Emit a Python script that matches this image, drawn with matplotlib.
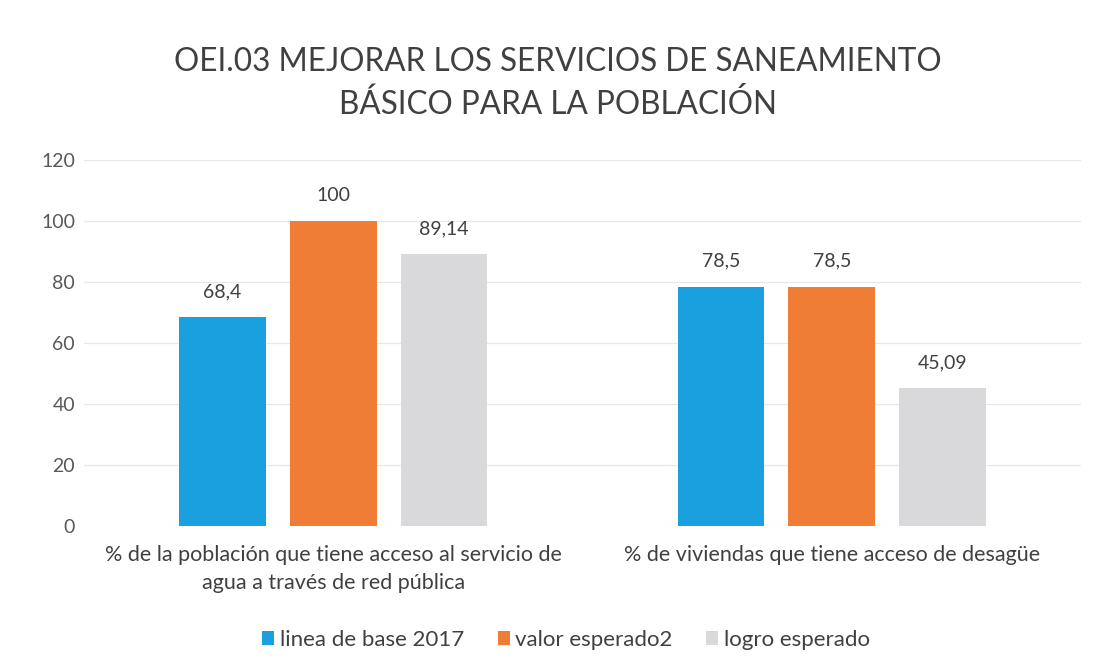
import matplotlib
matplotlib.use("Agg")
import matplotlib.pyplot as plt
import numpy as np

categories = ["% de la población que tiene acceso al servicio de\nagua a través de red pública",
              "% de viviendas que tiene acceso de desagüe"]
series_names = ["linea de base 2017", "valor esperado2", "logro esperado"]
linea_base = [68.4, 78.5]
valor_esperado = [100, 78.5]
logro_esperado = [89.14, 45.09]
value_labels = [["68,4", "78,5"], ["100", "78,5"], ["89,14", "45,09"]]
yticks = [0, 20, 40, 60, 80, 100, 120]

colors = ["#1AA0DE", "#EF7D35", "#D9D9DB"]
text_color = "#404040"

plt.rcParams['font.family'] = ['Lato', 'DejaVu Sans']

fig = plt.figure(figsize=(10.98, 6.69), dpi=100)
ax = fig.add_axes([84/1098, 1-526/669, (1081-84)/1098, 366/669])

x = np.arange(len(categories))
width = 0.174
step = 0.222
data = [linea_base, valor_esperado, logro_esperado]
for i, (vals, name, col) in enumerate(zip(data, series_names, colors)):
    bars = ax.bar(x + (i-1)*step, vals, width, color=col, label=name, zorder=3)
    for b, lab in zip(bars, value_labels[i]):
        ax.text(b.get_x()+b.get_width()/2, b.get_height()+6.6, lab,
                ha='center', va='baseline', fontsize=14, color=text_color)

ax.set_xlim(-0.5, 1.5)
ax.set_ylim(0, 120)
ax.set_yticks(yticks)
ax.set_yticklabels([str(t) for t in yticks], fontsize=14, color="#595959")
ax.set_xticks(x)
ax.set_xticklabels(categories, fontsize=15.5, color=text_color, linespacing=1.5)
ax.tick_params(axis='x', length=0, pad=14)
ax.tick_params(axis='y', length=0, pad=6.5)
ax.grid(axis='y', color="#E8E8E8", linewidth=0.9, zorder=0)
for s in ax.spines.values():
    s.set_visible(False)

fig.text(0.508, 1-62/669, "OEI.03 MEJORAR LOS SERVICIOS DE SANEAMIENTO", ha='center', va='center',
         fontsize=22.7, color=text_color)
fig.text(0.508, 1-105/669, "BÁSICO PARA LA POBLACIÓN", ha='center', va='center',
         fontsize=22.7, color=text_color)

leg = fig.legend(loc='center', bbox_to_anchor=(566/1098, 1-640/669), ncol=3, frameon=False,
                 fontsize=16, handlelength=0.55, handleheight=0.55, handletextpad=0.25,
                 columnspacing=1.5)
for t in leg.get_texts():
    t.set_color(text_color)

fig.savefig("out.png", dpi=100, facecolor="white")
